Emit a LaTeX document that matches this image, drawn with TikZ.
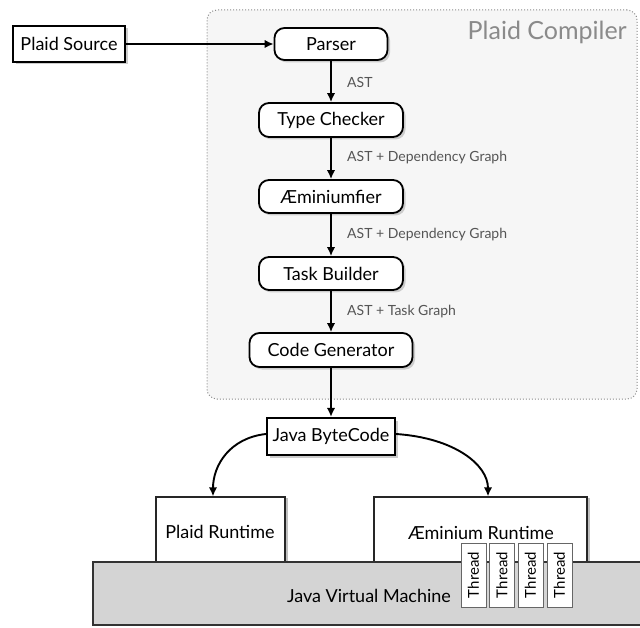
\documentclass[tikz,border=0pt]{standalone}
\usepackage{fontspec}
\setmainfont{Lato}
\usetikzlibrary{shadows,arrows.meta}
\definecolor{panelfill}{HTML}{F6F6F6}
\definecolor{panelline}{HTML}{8C8C8C}
\definecolor{titlegray}{HTML}{8A8A8A}
\definecolor{labelgray}{HTML}{555555}
\definecolor{jvmfill}{HTML}{D4D4D4}
\tikzset{
  stage/.style={draw, line width=1.8pt, rounded corners=10pt, fill=white,
    font=\fontsize{18}{20}\selectfont, inner sep=0pt,
    drop shadow={opacity=0.35, shadow xshift=2.5pt, shadow yshift=-2.5pt}},
  plainbox/.style={draw, line width=2.2pt, fill=white,
    font=\fontsize{18}{20}\selectfont, inner sep=0pt,
    drop shadow={opacity=0.4, shadow xshift=2.5pt, shadow yshift=-2.5pt}},
  runtime/.style={draw=black!85, line width=1.3pt, fill=white, inner sep=0pt,
    drop shadow={opacity=0.5, shadow xshift=3pt, shadow yshift=-1pt}},
  rtlabel/.style={inner sep=0pt, font=\fontsize{18}{20}\selectfont},
  thread/.style={draw=black!60, line width=0.6pt, fill=white, rotate=90,
    minimum width=64pt, minimum height=25pt, inner sep=0pt,
    font=\fontsize{15}{17}\selectfont},
  flowlabel/.style={anchor=west, text=labelgray, inner sep=0pt,
    font=\fontsize{14}{16}\selectfont},
  arr/.style={line width=1.9pt, -{Latex[length=9pt,width=8.5pt]}},
}
\begin{document}
\begin{tikzpicture}[x=1pt,y=-1pt]
\useasboundingbox (0,0) rectangle (640,628);
% compiler panel
\node[draw=panelline, dotted, line width=1pt, rounded corners=10pt, fill=panelfill,
  minimum width=430pt, minimum height=389pt, inner sep=0pt] (panel) at (422,204.5) {};
\node[anchor=east, text=titlegray, inner sep=0pt, font=\fontsize{25}{28}\selectfont]
  (title) at (627,32) {Plaid Compiler};
% stages
\node[plainbox, minimum width=112pt, minimum height=36pt] (src) at (69,44) {Plaid Source};
\node[stage, minimum width=113pt, minimum height=32pt] (parser) at (331,44) {Parser};
\node[stage, minimum width=144pt, minimum height=34pt] (tc) at (331,120) {Type Checker};
\node[stage, minimum width=144pt, minimum height=33pt] (aem) at (331,196.5) {Æminiumfier};
\node[stage, minimum width=144pt, minimum height=33pt] (tb) at (331,273.5) {Task Builder};
\node[stage, minimum width=163pt, minimum height=34pt] (cg) at (331,350) {Code Generator};
\node[plainbox, minimum width=128pt, minimum height=37pt] (jbc) at (331,436.5) {Java ByteCode};
% arrows
\draw[arr] (src.east) -- (parser.west);
\draw[arr] (parser.south) -- (tc.north);
\draw[arr] (tc.south) -- (aem.north);
\draw[arr] (aem.south) -- (tb.north);
\draw[arr] (tb.south) -- (cg.north);
\draw[arr] (cg.south) -- (jbc.north);
% labels
\node[flowlabel] (l1) at (347,82) {AST};
\node[flowlabel] (l2) at (347,158) {AST + Dependency Graph};
\node[flowlabel] (l3) at (347,235) {AST + Dependency Graph};
\node[flowlabel] (l4) at (347,312) {AST + Task Graph};
% runtimes
\node[runtime, minimum width=129pt, minimum height=70pt] (prt) at (220.5,532) {};
\node[runtime, minimum width=213pt, minimum height=70pt] (art) at (480.5,532) {};
\node[rtlabel] (prtlabel) at (220,532) {Plaid Runtime};
\node[rtlabel] (artlabel) at (481,533) {Æminium Runtime};
% JVM
\node[draw=black!80, line width=1.5pt, fill=jvmfill, minimum width=552pt, minimum height=63pt,
  inner sep=0pt] (jvm) at (369,593.5) {};
\node[rtlabel] (jvmlabel) at (369,596) {Java Virtual Machine};
% threads
\node[thread] (t1) at (473.5,575) {Thread};
\node[thread] (t2) at (502,575) {Thread};
\node[thread] (t3) at (530.5,575) {Thread};
\node[thread] (t4) at (559.5,575) {Thread};
% curved arrows
\draw[arr] (jbc.west |- 0,434)
  .. controls (230,438) and (213,465) .. (prt.north -| 213,0);
\draw[arr] (jbc.east |- 0,434)
  .. controls (455,438) and (488,465) .. (art.north -| 488,0);
\end{tikzpicture}
\end{document}
